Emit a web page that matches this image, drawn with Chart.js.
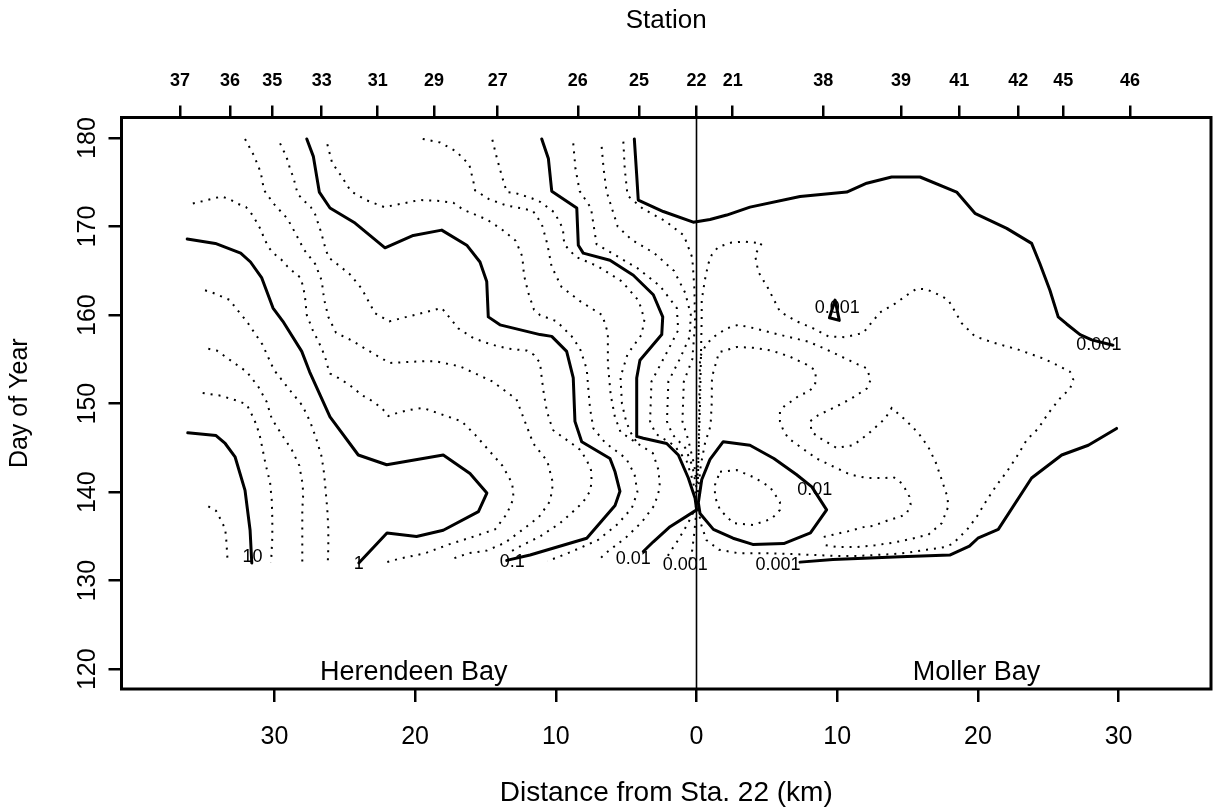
<!DOCTYPE html>
<html><head><meta charset="utf-8">
<script src="https://cdn.jsdelivr.net/npm/chart.js@4.4.1/dist/chart.umd.min.js"></script>
<style>html,body{margin:0;padding:0;background:#fff;}#wrap{width:1216px;height:812px;}</style>
</head><body><div id="wrap"><canvas id="c" width="1216" height="812"></canvas></div>
<script>
// ---- axis ticks ----
const stationKm = [-36.71,-33.16,-30.15,-26.64,-22.66,-18.66,-14.13,-8.44,-4.09,0,2.57,9.01,14.53,18.68,22.87,26.07,30.81];
const stationLabels = ['37','36','35','33','31','29','27','26','25','22','21','38','39','41','42','45','46'];
const distTicks = [-30,-20,-10,0,10,20,30];
const dayTicks = [120,130,140,150,160,170,180];

// ---- solid contours [km (Herendeen negative), day of year] ----
const c10 = [[-36.16,146.7],[-34.15,146.4],[-33.5,145.5],[-32.8,144.0],[-32.09,140.2],[-31.73,135.7],[-31.61,132.0]];
const c1 = [[-36.2,168.6],[-34.2,168.1],[-32.4,167.0],[-31.7,166.0],[-30.9,164.2],[-30.1,160.8],[-29.4,159.3],[-28.06,155.9],[-27.5,153.6],[-26.05,148.5],[-24.04,144.2],[-22.02,143.1],[-18.0,144.2],[-16.1,142.1],[-14.9,139.9],[-15.5,137.8],[-18.0,135.7],[-19.9,135.0],[-22.0,135.4],[-24.0,132.0]];
const c01 = [[-27.7,179.9],[-27.23,177.9],[-26.81,173.9],[-26.05,172.1],[-24.27,170.4],[-22.14,167.6],[-20.13,169.0],[-18.11,169.6],[-16.33,167.9],[-15.39,166.0],[-14.91,163.8],[-14.8,159.8],[-13.97,158.9],[-11.12,157.8],[-10.29,157.6],[-9.23,155.9],[-8.76,152.9],[-8.64,148.0],[-8.16,145.7],[-6.15,143.8],[-5.79,142.3],[-5.44,140.1],[-5.79,138.5],[-7.8,134.8],[-11.83,132.9],[-13.49,132.3]];
const c001Left = [[-11.0,179.9],[-10.53,177.7],[-10.29,174.0],[-8.51,172.1],[-8.4,167.9],[-8.05,167.0],[-6.15,166.2],[-4.49,164.5],[-3.07,162.3],[-2.4,159.8],[-2.47,157.8],[-4.02,154.9],[-4.25,152.9],[-4.25,146.3],[-3.78,146.1],[-2.12,145.5],[-1.29,144.2],[-0.58,141.6],[-0.1,139.3],[0.01,138.0],[-1.88,136.1],[-3.07,134.4],[-3.78,133.3]];
const c001Right = [[0.13,138.8],[0.37,141.4],[0.96,143.7],[1.9,145.7],[3.8,145.3],[5.5,143.8],[7.1,142.0],[8.2,140.6],[9.25,138.0],[8.1,135.4],[6.2,134.2],[4.0,134.1],[2.6,134.8],[1.2,135.8],[0.25,137.6],[0.13,138.8]];
const c0001Upper = [[-4.42,179.9],[-4.25,175.8],[-4.14,173.0],[-2.36,171.7],[-0.23,170.5],[0.96,170.8],[2.15,171.3],[3.8,172.2],[7.36,173.4],[10.68,173.9],[12.1,174.9],[13.87,175.6],[15.89,175.6],[18.49,173.9],[19.79,171.5],[22.05,169.8],[23.82,168.1],[24.41,165.8],[25.12,162.8],[25.71,159.8],[26.31,159.0],[27.26,157.8],[28.09,157.2],[29.6,156.6]];
const c0001Lower = [[7.36,132.1],[9.7,132.4],[14.5,132.7],[18.0,132.9],[19.4,133.9],[20.0,134.8],[21.45,135.8],[23.82,141.6],[25.96,144.2],[27.85,145.3],[29.86,147.2]];
const c0001Small = [[9.45,159.7],[9.85,161.7],[10.15,159.4],[9.45,159.7]];

// ---- dotted (intermediate) contours ----
const d10a = [[-34.93,162.8],[-34.34,162.5],[-33.16,161.7],[-32.8,160.9],[-31.97,159.3],[-30.86,156.7],[-30.03,153.8],[-28.84,151.4],[-28.02,149.8],[-27.47,148.0],[-27.04,146.1],[-26.64,144.0],[-26.47,142.1],[-26.35,140.0],[-26.24,138.0],[-26.17,135.9],[-26.17,133.8],[-26.21,131.9]];
const d10b = [[-34.7,156.2],[-34.1,156.0],[-33.04,154.8],[-31.97,153.6],[-31.14,151.9],[-30.55,150.2],[-30.19,148.3],[-29.48,146.5],[-28.77,144.8],[-28.23,143.0],[-28.02,141.1],[-27.95,139.9],[-28.02,138.0],[-28.02,135.8],[-28.02,133.8],[-28.02,132.0]];
const d10c = [[-35.1,151.2],[-33.82,150.9],[-32.57,150.3],[-31.97,149.9],[-31.43,148.2],[-31.07,146.6],[-30.86,145.0],[-30.62,143.1],[-30.31,141.1],[-30.19,139.1],[-30.15,137.0],[-30.15,134.9],[-30.24,132.0]];
const d10d = [[-34.7,138.4],[-34.15,137.9],[-33.82,136.9],[-33.51,135.9],[-33.44,135.0],[-33.39,133.8],[-33.32,132.0]];
const d1a = [[-35.8,172.6],[-33.75,173.4],[-33.2,173.1],[-32.64,172.6],[-32.02,172.2],[-31.61,171.4],[-31.26,170.5],[-30.95,169.6],[-30.74,168.7],[-30.43,167.7],[-30.08,167.0],[-29.53,166.3],[-29.08,165.5],[-28.66,164.9],[-28.13,164.2],[-27.95,163.1],[-27.83,162.1],[-27.7,160.0],[-27.47,159.1],[-27.23,158.1],[-26.92,157.2],[-26.64,156.2],[-26.4,155.3],[-26.24,154.3],[-26.05,153.4],[-25.46,152.9],[-24.86,152.3],[-24.32,151.7],[-23.84,151.0],[-23.25,150.5],[-22.78,150.0],[-22.26,149.3],[-21.9,148.6],[-21.36,148.9],[-20.65,149.2],[-20.01,149.4],[-19.42,149.5],[-16.69,148.0],[-15.74,146.5],[-14.8,144.8],[-13.8,143.0],[-13.1,141.0],[-13.0,139.3],[-13.5,137.5],[-14.32,135.8],[-16.0,134.9],[-17.6,134.1],[-19.3,133.1],[-21.08,132.5],[-22.26,132.0]];
const d1b = [[-32.09,179.9],[-31.45,178.0],[-30.97,176.1],[-30.74,174.1],[-30.01,172.5],[-29.08,170.9],[-28.49,169.2],[-27.9,167.4],[-27.11,165.8],[-26.64,163.9],[-26.47,161.8],[-26.17,159.8],[-25.62,158.0],[-24.46,157.1],[-23.44,156.1],[-22.26,155.0],[-21.78,154.6],[-20.6,154.7],[-19.3,154.8],[-18.59,154.8],[-16.8,154.2],[-14.5,152.5],[-12.8,150.5],[-12.2,148.0],[-11.6,145.5],[-10.6,143.5],[-10.2,141.0],[-10.4,139.0],[-11.2,137.2],[-12.5,135.6],[-13.6,134.3],[-14.91,133.4],[-16.22,133.1],[-17.3,132.5]];
const d1c = [[-29.6,179.4],[-29.3,178.4],[-29.06,177.5],[-28.89,176.5],[-28.66,175.6],[-28.35,173.7],[-27.95,173.0],[-27.42,172.2],[-27.11,171.4],[-26.69,169.4],[-26.35,167.4],[-26.14,166.5],[-25.57,165.8],[-24.63,164.6],[-23.8,163.0],[-23.16,161.1],[-22.85,160.2],[-21.83,159.3],[-20.6,159.8],[-19.35,160.3],[-18.11,160.8],[-16.93,158.5],[-15.86,157.4],[-14.63,156.7],[-13.38,156.2],[-12.07,156.0],[-11.55,155.5],[-11.12,154.6],[-11.0,152.9],[-10.84,151.0],[-10.65,149.3],[-10.46,148.2],[-10.18,147.0],[-9.58,146.3],[-8.87,145.5],[-8.28,144.8],[-7.8,143.6],[-7.5,142.5],[-7.45,141.2],[-7.57,140.1],[-8.05,138.9],[-8.64,138.0],[-9.7,136.5],[-11.12,135.0],[-12.4,134.0],[-13.3,133.2]];
const d01a = [[-26.24,179.3],[-25.9,177.2],[-25.2,175.6],[-24.57,174.0],[-23.5,173.0],[-22.19,172.2],[-20.9,172.6],[-19.7,173.0],[-18.3,172.9],[-17.29,172.7],[-16.57,171.9],[-14.91,170.8],[-13.85,169.7],[-12.85,168.4],[-12.38,166.6],[-12.26,164.5],[-11.95,162.5],[-11.55,160.6],[-11.12,160.0],[-9.94,159.3],[-8.87,157.6],[-8.28,156.2],[-7.8,153.9],[-7.69,151.7],[-7.57,149.5],[-7.33,147.2],[-6.5,145.6],[-5.0,143.8],[-4.4,142.0],[-4.2,140.0],[-4.6,138.2],[-5.6,136.4],[-7.0,134.6],[-9.0,133.2],[-10.6,132.2]];
const d01b = [[-19.46,179.9],[-18.23,179.5],[-17.09,178.5],[-16.15,177.0],[-15.86,175.1],[-15.74,174.1],[-14.75,173.1],[-13.54,172.4],[-12.26,172.0],[-11.64,171.8],[-11.0,170.3],[-10.6,168.0],[-10.3,165.5],[-9.6,163.2],[-8.3,161.6],[-6.7,160.0],[-6.3,158.0],[-6.3,154.5],[-6.1,151.0],[-5.8,148.5],[-5.4,146.8],[-4.2,145.5],[-3.1,144.4],[-2.7,142.5],[-2.6,140.5],[-3.0,138.5],[-3.9,136.6],[-5.0,134.9],[-6.3,133.3],[-7.0,132.3]];
const d01c = [[-14.51,179.8],[-14.2,177.8],[-13.85,175.8],[-13.49,173.9],[-12.9,173.8],[-11.71,173.2],[-11.12,172.8],[-10.1,171.6],[-9.5,169.8],[-9.4,168.0],[-8.6,166.6],[-7.0,165.5],[-5.3,163.8],[-4.1,161.6],[-3.7,159.5],[-3.9,157.8],[-4.9,155.6],[-5.4,153.0],[-5.3,150.0],[-5.0,148.0],[-4.7,146.8],[-4.2,145.5]];
const d001a = [[-8.76,179.4],[-8.6,176.5],[-8.3,174.0],[-7.5,172.1],[-7.3,170.0],[-7.1,168.0],[-5.8,166.8],[-4.2,165.3],[-2.6,163.3],[-1.4,160.8],[-1.3,158.3],[-2.2,155.5],[-3.2,152.5],[-3.3,148.0],[-2.9,146.6],[-1.6,145.3],[-0.7,143.5],[-0.3,141.5],[0.0,139.5]];
const d001b = [[-6.74,179.0],[-6.6,176.5],[-6.4,174.0],[-6.0,172.0],[-5.6,170.0],[-4.6,168.5],[-3.0,167.0],[-1.6,165.0],[-0.8,162.5],[-0.4,160.0],[-0.5,157.5],[-1.2,155.0],[-2.0,152.5],[-2.1,148.0],[-1.7,146.5],[-0.8,145.0],[-0.3,143.0],[0.0,140.5]];
const d001c = [[-5.2,179.6],[-5.1,176.5],[-4.9,173.5],[-3.8,172.0],[-2.2,170.6],[-0.9,169.0],[-0.3,166.5],[-0.15,163.0],[-0.1,159.0],[-0.3,155.0],[-0.9,152.5],[-1.0,148.0],[-0.6,146.0],[-0.15,143.0],[0.0,141.0]];
const d001d = [[0.0,138.5],[-0.6,136.5],[-1.3,134.6],[-1.9,133.2],[-2.2,132.3]];
const d001e = [[0.0,138.0],[-0.15,135.5],[-0.3,133.5],[-0.45,132.3]];
const m001a = [[0.1,141.5],[0.25,150.0],[0.37,159.8],[0.37,161.7],[0.6,164.0],[0.84,165.8],[1.08,166.8],[1.55,167.7],[2.5,168.2],[3.45,168.3],[4.63,168.1],[4.16,166.8],[4.39,164.9],[5.1,163.0],[5.93,160.4],[7.12,159.3],[8.3,158.5],[9.37,157.6],[10.55,157.5],[11.86,158.0],[12.21,158.7],[13.04,160.3],[14.11,161.3],[15.17,162.5],[15.69,163.0],[16.36,162.9],[17.36,162.2],[17.9,161.7],[18.85,159.1],[19.79,157.6],[21.09,156.9],[22.87,156.1],[24.65,155.1],[25.84,154.2],[26.55,153.6],[26.78,152.7],[26.55,151.7],[25.84,150.6],[25.0,148.9],[24.29,147.2],[23.47,145.9],[22.76,144.0],[22.05,142.3],[21.34,140.8],[20.63,139.1],[19.91,137.2],[19.2,135.7],[18.73,135.0],[18.25,134.2],[17.66,133.8],[16.36,133.5],[15.17,133.2],[13.87,133.0],[12.69,132.9],[11.5,132.8],[10.0,132.8],[8.5,132.9],[7.0,133.0],[5.0,133.1],[3.0,133.1],[1.6,133.5],[0.7,134.6],[0.3,136.5],[0.1,138.5]];
const m001b = [[0.05,141.0],[0.15,145.0],[0.2,150.0],[0.25,155.3],[0.6,156.4],[1.08,157.4],[2.15,158.5],[2.97,158.9],[4.16,158.5],[5.34,158.0],[6.65,157.5],[7.95,157.0],[9.13,156.2],[10.32,155.3],[11.5,154.4],[12.1,154.0],[12.38,152.7],[12.1,151.7],[11.03,150.6],[9.96,149.7],[8.66,148.7],[8.07,148.0],[8.19,146.8],[8.78,146.1],[9.96,145.0],[11.14,145.3],[12.21,146.6],[13.4,148.3],[13.87,149.5],[14.82,148.2],[15.76,146.7],[16.48,145.1],[17.02,143.3],[17.43,141.4],[17.83,139.5],[17.9,138.4],[17.43,136.5],[16.48,135.2],[15.17,134.7],[13.99,134.3],[12.69,134.0],[11.39,133.8],[10.0,133.8],[8.8,134.1]];
const m001c = [[0.1,140.0],[0.3,143.0],[0.6,145.5],[1.0,147.5],[1.08,150.0],[1.1,153.0],[1.6,155.8],[2.86,156.4],[4.04,156.3],[5.34,156.0],[6.65,155.3],[7.83,154.4],[8.42,153.8],[8.49,152.9],[8.42,152.1],[7.95,151.3],[7.36,151.0],[6.88,150.4],[6.29,149.8],[5.93,149.1],[5.93,148.0],[6.17,147.0],[6.52,146.1],[7.48,145.0],[8.54,143.8],[9.72,142.9],[10.91,142.0],[12.1,141.6],[13.35,141.6],[13.99,141.7],[14.46,141.2],[14.82,140.4],[15.13,139.5],[15.22,138.6],[14.94,137.6],[14.46,137.2],[13.75,136.9],[12.57,136.2],[11.98,136.1],[10.8,135.6],[9.72,135.2],[8.9,134.9]];
const m01Inner = [[1.67,142.3],[2.86,142.5],[4.04,141.7],[5.22,140.6],[5.93,138.9],[5.93,138.0],[5.34,137.0],[4.04,136.3],[2.62,136.5],[1.67,138.0],[1.31,139.5],[1.31,140.8],[1.67,142.3]];

// ---- contour labels ----
const labelText = ['10','1','0.1','0.01','0.001','0.001','0.01','0.001','0.001'];
const labelKm = [-31.56,-24.0,-13.1,-4.5,-0.8,5.8,8.4,10.0,28.6];
const labelDay = [132.7,131.9,132.1,132.5,131.8,131.8,140.2,160.8,156.6];
const bayText = ['Herendeen Bay','Moller Bay'];
const bayKm = [-20.1,19.9];
const bayDay = [119.6,119.6];

const solidLines = [c10,c1,c01,c001Left,c001Right,c0001Upper,c0001Lower,c0001Small];
const dottedLines = [d10a,d10b,d10c,d10d,d1a,d1b,d1c,d01a,d01b,d01c,d001a,d001b,d001c,d001d,d001e,m001a,m001b,m001c,m01Inner];

const X_MIN = -40.87, X_MAX = 36.57, Y_MIN = 117.77, Y_MAX = 182.32;
const FONT = "'Liberation Sans', Arial, Helvetica, sans-serif";
const pts = a => a.map(p => ({x: p[0], y: p[1]}));

const datasets = [];
solidLines.forEach(a => datasets.push({data: pts(a), showLine: true, borderColor: '#000', borderWidth: 3, pointRadius: 0, borderJoinStyle: 'round', borderCapStyle: 'round', tension: 0}));
dottedLines.forEach(a => datasets.push({data: pts(a), showLine: true, borderColor: '#000', borderWidth: 2, borderDash: [2, 6], pointRadius: 0, tension: 0}));
datasets.push({data: [{x: 0, y: Y_MIN}, {x: 0, y: Y_MAX}], showLine: true, borderColor: '#000', borderWidth: 1.6, pointRadius: 0});

const gridOpts = {display: true, drawOnChartArea: false, drawTicks: true, color: '#000', lineWidth: 2.5};

const overlay = {
  id: 'overlay',
  afterDatasetsDraw(chart) {
    const {ctx, chartArea: a, scales} = chart;
    ctx.save();
    ctx.strokeStyle = '#000';
    ctx.lineWidth = 3;
    ctx.strokeRect(a.left, a.top, a.right - a.left, a.bottom - a.top);
    ctx.fillStyle = '#000';
    ctx.textAlign = 'center';
    ctx.textBaseline = 'middle';
    ctx.font = '18px ' + FONT;
    labelText.forEach((t, i) => ctx.fillText(t, scales.x.getPixelForValue(labelKm[i]), scales.y.getPixelForValue(labelDay[i])));
    ctx.font = '27px ' + FONT;
    bayText.forEach((t, i) => ctx.fillText(t, scales.x.getPixelForValue(bayKm[i]), scales.y.getPixelForValue(bayDay[i])));
    ctx.restore();
  }
};

new Chart(document.getElementById('c'), {
  type: 'scatter',
  data: {datasets},
  options: {
    responsive: false, animation: false, devicePixelRatio: 1,
    layout: {padding: {left: 0, right: 5, top: 0, bottom: 0}},
    plugins: {legend: {display: false}, tooltip: {enabled: false}},
    scales: {
      x: {
        type: 'linear', position: 'bottom', min: X_MIN, max: X_MAX,
        afterBuildTicks: s => { s.ticks = distTicks.map(v => ({value: v})); },
        afterFit: s => { s.height = 123; },
        ticks: {callback: v => String(Math.abs(v)), font: {family: FONT, size: 25}, color: '#000', padding: 20, maxRotation: 0, minRotation: 0, autoSkip: false},
        grid: Object.assign({tickLength: 13}, gridOpts),
        border: {display: false},
        title: {display: true, text: 'Distance from Sta. 22 (km)', font: {family: FONT, size: 28}, color: '#000', padding: {top: 0, bottom: 2}}
      },
      x2: {
        type: 'linear', position: 'top', min: X_MIN, max: X_MAX,
        afterBuildTicks: s => { s.ticks = stationKm.map(v => ({value: v})); },
        afterFit: s => { s.height = 117.5; },
        ticks: {callback: (v, i) => stationLabels[i], font: {family: FONT, size: 18, weight: 'bold'}, color: '#000', padding: 14, maxRotation: 0, minRotation: 0, autoSkip: false},
        grid: Object.assign({tickLength: 12}, gridOpts),
        border: {display: false},
        title: {display: true, text: 'Station', font: {family: FONT, size: 26}, color: '#000', padding: {top: 5, bottom: 0}}
      },
      y: {
        type: 'linear', position: 'left', min: Y_MIN, max: Y_MAX,
        afterBuildTicks: s => { s.ticks = dayTicks.map(v => ({value: v})); },
        afterFit: s => { s.width = 121.5; },
        ticks: {font: {family: FONT, size: 25}, color: '#000', padding: 0, minRotation: 90, maxRotation: 90, crossAlign: 'center'},
        grid: Object.assign({tickLength: 13}, gridOpts),
        border: {display: false},
        title: {display: true, text: 'Day of Year', font: {family: FONT, size: 25}, color: '#000', padding: {top: 5, bottom: 0}}
      }
    }
  },
  plugins: [overlay]
});
</script></body></html>
